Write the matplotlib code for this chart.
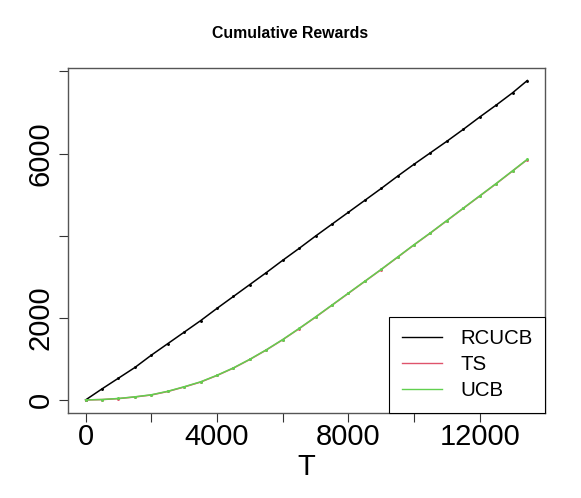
import numpy as np
import matplotlib
matplotlib.use("Agg")
import matplotlib.pyplot as plt

plt.rcParams['font.family'] = ['Liberation Sans', 'DejaVu Sans']

# values (cumulative reward at time step T)
T = [0, 500, 1000, 1500, 2000, 2500, 3000, 3500, 4000, 4500, 5000, 5500, 6000,
     6500, 7000, 7500, 8000, 8500, 9000, 9500, 10000, 10500, 11000, 11500,
     12000, 12500, 13000, 13450]
rcucb = [0, 270, 530, 790, 1090, 1370, 1650, 1930, 2230, 2520, 2810, 3100, 3400,
         3690, 3990, 4280, 4570, 4860, 5150, 5450, 5740, 6020, 6300, 6590,
         6890, 7180, 7480, 7780]
ts = [0, 8, 32, 72, 120, 205, 315, 435, 595, 775, 985, 1215, 1465,
      1735, 2015, 2305, 2595, 2885, 3175, 3475, 3775, 4065, 4365, 4665,
      4965, 5265, 5575, 5855]
ucb = [0, 10, 35, 75, 125, 210, 320, 440, 600, 780, 990, 1220, 1470,
       1740, 2020, 2310, 2600, 2890, 3180, 3480, 3780, 4070, 4370, 4670,
       4970, 5270, 5580, 5860]
names = ["RCUCB", "TS", "UCB"]
colors = ["black", "#DF536B", "#61D04F"]

fig = plt.figure(figsize=(5.81, 4.98), dpi=100)
ax = fig.add_axes([0.117, 0.1713, 0.821, 0.6927])

for y, name, col in zip([rcucb, ts, ucb], names, colors):
    ax.plot(T, y, color=col, lw=1.1, marker='.', ms=2.2, label=name)

# R style 4% padding
xr = max(T) * 0.04
yr = max(rcucb) * 0.04
ax.set_xlim(-xr, max(T) + xr)
ax.set_ylim(-yr, max(rcucb) + yr)

ax.set_xticks(np.arange(0, 14000, 2000))
ax.set_xticklabels(["0", "", "4000", "", "8000", "", "12000"])
ax.set_yticks(np.arange(0, 8001, 2000))
ax.set_yticklabels(["0", "2000", "", "6000", ""], rotation=90, va='center')
ax.tick_params(axis='both', labelsize=21, length=6.5, width=0.8, color='#333333')
ax.tick_params(axis='x', pad=1)
ax.tick_params(axis='y', pad=3)
for s in ax.spines.values():
    s.set_color('#555555')
    s.set_linewidth(1.0)

ax.set_xlabel("T", fontsize=21, labelpad=1.5)
fig.suptitle("Cumulative Rewards", fontsize=11.4, fontweight='bold', y=0.948)

leg = ax.legend(loc='lower right', borderaxespad=0, fancybox=False,
                edgecolor='black', framealpha=1, fontsize=14.7,
                handlelength=2.0, handletextpad=0.88, borderpad=0.6,
                labelspacing=0.35)
leg.get_frame().set_linewidth(0.8)
for h in leg.get_lines():
    h.set_marker('')
    h.set_linewidth(1.0)

fig.savefig("out.png", dpi=100)
